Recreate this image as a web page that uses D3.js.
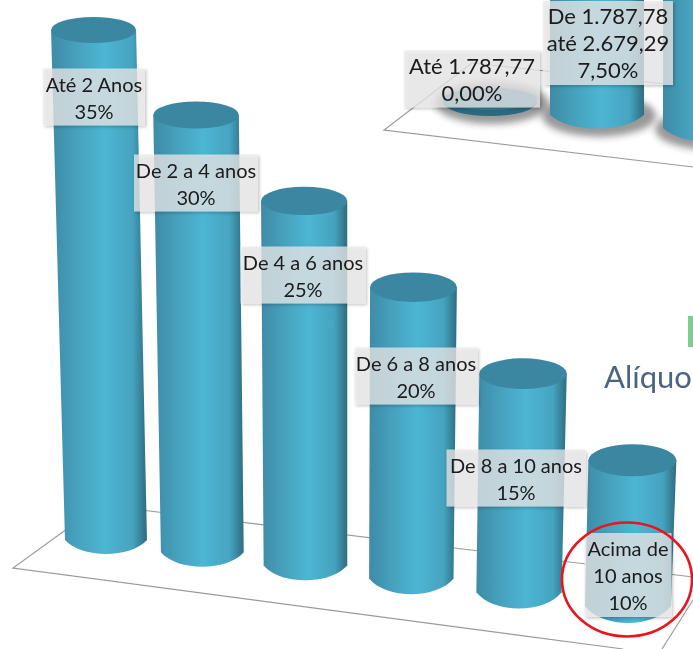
<!DOCTYPE html>
<html>
<head>
<meta charset="utf-8">
<script src="https://cdn.jsdelivr.net/npm/d3@7"></script>
<style>
  html, body { margin: 0; padding: 0; background: #fff; }
  svg { display: block; }
  text { font-family: Lato, "Open Sans", sans-serif; }
</style>
</head>
<body>
<div id="chart"></div>
<script>
// tempo de contribuicao (chart at the front)
const categories = ["Até 2 Anos", "De 2 a 4 anos", "De 4 a 6 anos", "De 6 a 8 anos", "De 8 a 10 anos", "Acima de 10 anos"];
const values = [35, 30, 25, 20, 15, 10];
const valueLabels = ["35%", "30%", "25%", "20%", "15%", "10%"];

// faixas de salario (chart cut off at the top right)
const bandCategories = ["Até 1.787,77", "De 1.787,78 até 2.679,29", "De 2.679,30 até 3.572,43"];
const bandValues = [0, 7.5, 15];
const bandLabels = ["0,00%", "7,50%", "15,00%"];

const width = 693, height = 649;
const svg = d3.select("#chart").append("svg").attr("width", width).attr("height", height);
const defs = svg.append("defs");

const grad = defs.append("linearGradient").attr("id", "side");
grad.append("stop").attr("offset", "0%").attr("stop-color", "#3f8ba6");
grad.append("stop").attr("offset", "25%").attr("stop-color", "#45a0bc");
grad.append("stop").attr("offset", "55%").attr("stop-color", "#4db6d3");
grad.append("stop").attr("offset", "85%").attr("stop-color", "#45a3bf");
grad.append("stop").attr("offset", "100%").attr("stop-color", "#2e6c80");

defs.append("filter").attr("id", "soft").append("feGaussianBlur").attr("stdDeviation", 0.45);
defs.append("filter").attr("id", "shade").attr("x", "-30%").attr("y", "-30%").attr("width", "160%").attr("height", "160%")
  .append("feGaussianBlur").attr("stdDeviation", 3.5);
const drop = defs.append("filter").attr("id", "boxShadow").attr("x", "-10%").attr("y", "-10%").attr("width", "125%").attr("height", "125%");
drop.append("feDropShadow").attr("dx", 1.5).attr("dy", 1.5).attr("stdDeviation", 1.5).attr("flood-color", "#000").attr("flood-opacity", 0.3);

const root = svg.append("g").attr("filter", "url(#soft)");

function floor(g, pts) {
  g.append("path").attr("d", d3.line()(pts)).attr("fill", "none").attr("stroke", "#9a9a9a").attr("stroke-width", 1.2);
}

// one cylinder: base centre (cx, cy), height h, lean of the top from perspective
function cylinder(g, c) {
  const topX = c.cx + c.lean, topY = c.cy - c.h;
  if (c.shadow) {
    g.append("ellipse").attr("cx", c.cx + 2).attr("cy", c.cy + 1).attr("rx", c.rx + 10).attr("ry", c.ry + 7)
      .attr("fill", "#444").attr("opacity", 0.55).attr("filter", "url(#shade)");
  }
  if (c.h > 0) {
    const d = d3.path();
    d.moveTo(topX - c.rxTop, topY);
    d.lineTo(c.cx - c.rx, c.cy);
    d.bezierCurveTo(c.cx - c.rx * 0.6, c.cy + c.ry * 1.33, c.cx + c.rx * 0.6, c.cy + c.ry * 1.33, c.cx + c.rx, c.cy);
    d.lineTo(topX + c.rxTop, topY);
    d.closePath();
    g.append("path").attr("d", d.toString()).attr("fill", "url(#side)");
    g.append("ellipse").attr("cx", topX).attr("cy", topY).attr("rx", c.rxTop).attr("ry", c.ry - 1).attr("fill", "#3a86a1");
  } else {
    // zero value: only a flat disc with its dark rim
    g.append("ellipse").attr("cx", c.cx).attr("cy", c.cy).attr("rx", c.rx).attr("ry", c.ry).attr("fill", "#2b6a80");
    g.append("ellipse").attr("cx", c.cx).attr("cy", c.cy - 3).attr("rx", c.rx).attr("ry", c.ry - 3).attr("fill", "#3a7d95");
  }
}

function label(g, cx, cy, w, lines, size) {
  const lh = 27, h = lines.length * lh + 3;
  g.append("rect").attr("x", cx - w / 2).attr("y", cy - h / 2).attr("width", w).attr("height", h)
    .attr("fill", "#eaeaea").attr("fill-opacity", 0.74).attr("filter", "url(#boxShadow)");
  g.selectAll(null).data(lines).enter().append("text")
    .attr("x", cx).attr("y", (d, i) => cy + (i - (lines.length - 1) / 2) * lh + 8)
    .attr("text-anchor", "middle").attr("font-size", size).attr("fill", "#1a1a1a").text(d => d);
}

// back chart, top right
const back = root.append("g");
floor(back, [[472, 63], [384, 130], [693, 167]]);
floor(back, [[472, 63], [693, 87]]);

const bx = d3.scalePow().exponent(1.04).domain([0, bandCategories.length - 1]).range([490, 710]);
const bh = d3.scaleLinear().domain([0, 15]).range([0, 300]);
const bandBaseY = d3.scaleLinear().domain([490, 710]).range([102, 128]);
bandCategories.forEach((c, i) => {
  const cx = bx(i);
  cylinder(back, { cx, cy: bandBaseY(cx), h: bh(bandValues[i]), lean: 0, rx: 47, rxTop: 47, ry: 14, shadow: true });
});

// front chart
const front = root.append("g");
floor(front, [[100, 505], [13, 568], [623, 649]]);
floor(front, [[100, 505], [693, 577]]);
floor(front, [[693, 600], [662, 649]]);

const xIndex = d3.scalePow().exponent(1.05).domain([0, categories.length - 1]).range([106, 628]);
const baseY = d3.scaleLinear().domain([106, 628]).range([540, 606]);
const yHeight = d3.scaleLinear().domain([0, 35]).range([0, 510]);
const leanAt = d3.scaleLinear().domain([340, 628]).range([0, 0.03]);
const ryAt = d3.scaleLinear().domain([106, 628]).range([14, 17]);

categories.forEach((c, i) => {
  const cx = xIndex(i), h = yHeight(values[i]);
  cylinder(front, { cx, cy: baseY(cx), h, lean: h * leanAt(cx), rx: 41 + i * 0.4, rxTop: 42.5 + i * 0.3, ry: ryAt(cx) });
});

// bits of the slide behind the charts
root.append("rect").attr("x", 688).attr("y", 316).attr("width", 5).attr("height", 31).attr("fill", "#7dcf8f");
root.append("text").attr("x", 604).attr("y", 388).attr("font-size", 31).attr("fill", "#4a6583").text("Alíquo");

// data labels
const labels = root.append("g");
const labelBoxes = [[94, 97, 102], [196, 183, 124], [303, 275, 125], [416, 376, 123], [516, 478, 139]];
labelBoxes.forEach((b, i) => label(labels, b[0], b[1], b[2], [categories[i], valueLabels[i]], 20));
label(labels, 628, 575, 87, ["Acima de", "10 anos", valueLabels[5]], 20);

label(labels, 472, 79, 136, [bandCategories[0], bandLabels[0]], 22);
label(labels, 608, 43, 130, ["De 1.787,78", "até 2.679,29", bandLabels[1]], 22);

// destaque
root.append("ellipse").attr("cx", 627).attr("cy", 579.5).attr("rx", 65).attr("ry", 57)
  .attr("fill", "none").attr("stroke", "#e8141c").attr("stroke-width", 2.6);
</script>
</body>
</html>
